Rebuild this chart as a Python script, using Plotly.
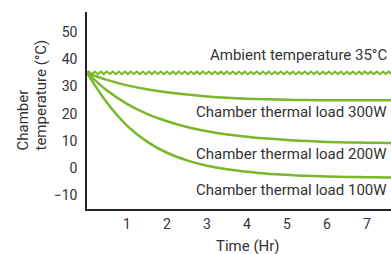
import numpy as np
import plotly.graph_objects as go

# ---- data ----
time_hr = [0, 0.5, 1, 1.5, 2, 2.5, 3, 3.5, 4, 4.5, 5, 5.5, 6, 6.5, 7, 7.5, 7.6]
load_300w = [35, 32.4, 30.4, 29.0, 27.9, 27.0, 26.3, 25.8, 25.5, 25.3, 25.1, 25.0, 24.9, 24.9, 24.9, 24.9, 24.9]
load_200w = [35, 28.5, 23.6, 19.9, 17.2, 15.1, 13.5, 12.3, 11.5, 10.8, 10.3, 9.9, 9.6, 9.4, 9.3, 9.2, 9.2]
load_100w = [35, 24.0, 15.6, 9.7, 5.6, 2.8, 0.8, -0.5, -1.4, -2.1, -2.5, -2.9, -3.1, -3.3, -3.4, -3.5, -3.5]
ambient_c = 35
x_ticks = [1, 2, 3, 4, 5, 6, 7]
y_ticks = [-10, 0, 10, 20, 30, 40, 50]
labels = [
    ("Ambient temperature 35°C", 41.6),
    ("Chamber thermal load 300W", 20.6),
    ("Chamber thermal load 200W", 5.3),
    ("Chamber thermal load 100W", -8.1),
]

# ---- style ----
GREEN = "#78b82a"
TXT = "#333333"
FONT = "Roboto"
X_MAX = 7.6
WAVE_AMP = 0.5       # visual wiggle of the ambient line (style only)
WAVE_PERIOD = 0.15

fig = go.Figure()

wx = np.linspace(0, X_MAX, 900)
wy = ambient_c + WAVE_AMP * np.sin(2 * np.pi * wx / WAVE_PERIOD)
fig.add_trace(go.Scatter(x=wx, y=wy, mode="lines",
                         line=dict(color=GREEN, width=2), hoverinfo="skip"))

for series in (load_300w, load_200w, load_100w):
    fig.add_trace(go.Scatter(x=time_hr, y=series, mode="lines",
                             line=dict(color=GREEN, width=2.5, shape="spline", smoothing=1),
                             hoverinfo="skip"))

for text, yv in labels:
    fig.add_annotation(x=0.992, xref="paper", y=yv, yref="y", text=text,
                       showarrow=False, xanchor="right", yanchor="middle",
                       font=dict(family=FONT, size=15, color=TXT))

# axis titles
fig.add_annotation(x=(248 - 87) / 304, xref="paper", y=(209 - 246) / 197, yref="paper",
                   text="Time (Hr)", showarrow=False, xanchor="center", yanchor="middle",
                   font=dict(family=FONT, size=15, color=TXT))
fig.add_annotation(x=(22 - 87) / 304, xref="paper", y=(209 - 153) / 197, yref="paper",
                   text="Chamber", textangle=-90, showarrow=False,
                   xanchor="center", yanchor="bottom",
                   font=dict(family=FONT, size=15, color=TXT))
fig.add_annotation(x=(40 - 87) / 304, xref="paper", y=(209 - 153) / 197, yref="paper",
                   text="temperature (°C)", textangle=-90, showarrow=False,
                   xanchor="center", yanchor="bottom",
                   font=dict(family=FONT, size=15, color=TXT))

fig.update_layout(
    width=391, height=254,
    margin=dict(l=87, r=0, t=12, b=45),
    paper_bgcolor="white", plot_bgcolor="white",
    showlegend=False,
    font=dict(family=FONT, size=14, color=TXT),
)
axis_common = dict(showgrid=False, zeroline=False, showline=True,
                   linecolor="#222222", linewidth=1.5,
                   ticks="outside", tickcolor="rgba(0,0,0,0)",
                   tickfont=dict(family=FONT, size=14, color=TXT))
fig.update_xaxes(range=[0, X_MAX], tickvals=x_ticks, ticklen=1, **axis_common)
fig.update_yaxes(range=[-15.1, 57.4], tickvals=y_ticks, ticklen=5, **axis_common)

fig.write_html("out.html", config={"displayModeBar": False},
               post_script="document.body.style.margin='0';document.body.style.overflow='hidden';")
